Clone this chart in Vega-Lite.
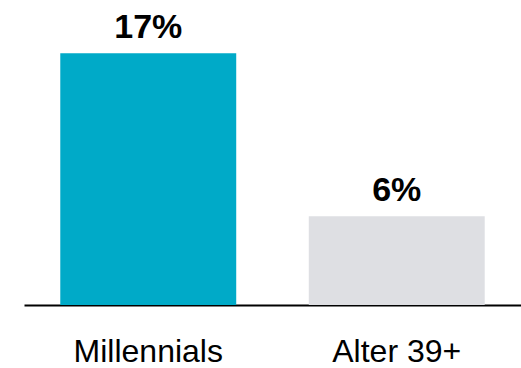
{
  "$schema": "https://vega.github.io/schema/vega-lite/v6.json",
  "width": 497,
  "height": 305,
  "padding": {"left": 24, "top": 0, "right": 0, "bottom": 0},
  "background": "white",
  "data": {"values": [
    {"group": "Millennials", "value": 17, "label": "17%"},
    {"group": "Alter 39+", "value": 6, "label": "6%"}
  ]},
  "config": {"view": {"stroke": null}, "font": "Liberation Sans"},
  "encoding": {
    "x": {"field": "group", "type": "nominal", "sort": null,
      "scale": {"paddingInner": 0, "paddingOuter": 0},
      "axis": {"title": null, "labelAngle": 0, "ticks": false, "domainColor": "#000000", "domainWidth": 2,
        "labelFont": "Liberation Sans", "labelFontSize": 32, "labelColor": "#000000", "labelPadding": 56, "labelBaseline": "alphabetic"}},
    "y": {"field": "value", "type": "quantitative",
      "scale": {"domain": [0, 20.6], "nice": false}, "axis": null}
  },
  "layer": [
    {"mark": {"type": "bar", "width": {"band": 0.708}},
      "encoding": {"color": {"field": "group", "type": "nominal", "legend": null,
        "scale": {"domain": ["Millennials", "Alter 39+"], "range": ["#00AAC8", "#DEDFE3"]}}}},
    {"mark": {"type": "text", "baseline": "alphabetic", "dy": -15, "fontSize": 34, "fontWeight": "bold", "font": "Liberation Sans", "color": "#000000"},
      "encoding": {"text": {"field": "label"}}}
  ]
}
